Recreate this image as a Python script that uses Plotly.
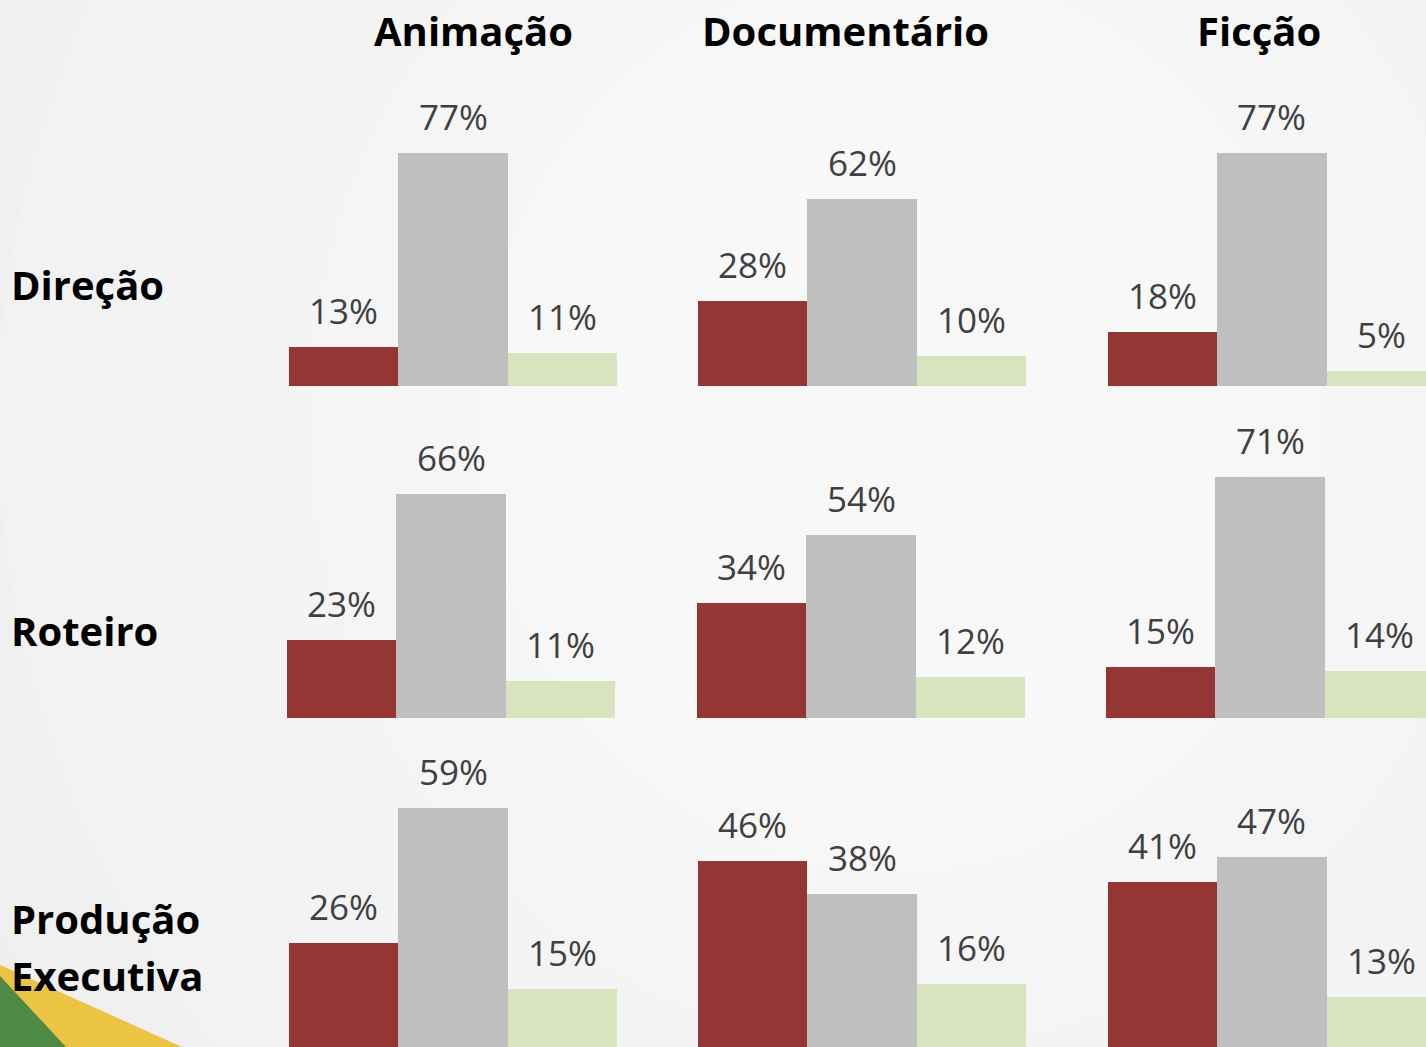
import plotly.graph_objects as go

# ----------------------------- DONNÉES ----------------------------- #
generos = ["Animação", "Documentário", "Ficção"]
funcoes = ["Direção", "Roteiro", "Produção Executiva"]
series = ["Série 1", "Série 2", "Série 3"]

# valeurs (%) par fonction, puis par genre : [série 1, série 2, série 3]
direcao = [[13, 77, 11], [28, 62, 10], [18, 77, 5]]
roteiro = [[23, 66, 11], [34, 54, 12], [15, 71, 14]]
producao_executiva = [[26, 59, 15], [46, 38, 16], [41, 47, 13]]
valores = [direcao, roteiro, producao_executiva]

cores = ["#943634", "#BFBFBF", "#D7E4BD"]

# ----------------------------- MISE EN PAGE ----------------------------- #
W, H = 1426, 1047
BAR_W = 109.33
# (base en px, px par %), par ligne
lignes = [(386, 3.02), (718, 3.39), (1050, 4.1)]
# bord gauche de la 1re barre, par ligne puis par colonne
gauches = [[289, 698, 1108], [287, 697, 1106], [289, 698, 1108]]
PANEL_H = 300

fig = go.Figure()

# fond : léger dégradé clair (cercles blancs superposés)
cx, cy = 900 / W, 1 - 420 / H
for k in [1.3, 1.15, 1.0, 0.87, 0.75, 0.64, 0.54, 0.45]:
    fig.add_shape(type="circle", xref="paper", yref="paper",
                  x0=cx - 0.55 * k, x1=cx + 0.55 * k,
                  y0=cy - 0.8 * k, y1=cy + 0.8 * k,
                  fillcolor="white", opacity=0.13, line_width=0, layer="below")

# décor coin inférieur gauche (jaune puis vert)
fig.add_shape(type="path", xref="paper", yref="paper",
              path=f"M 0 {1-965/H} L {182/W} 0 L 0 0 Z",
              fillcolor="#EBC443", line_width=0, layer="below")
fig.add_shape(type="path", xref="paper", yref="paper",
              path=f"M 0 {1-976/H} L {66/W} 0 L 0 0 Z",
              fillcolor="#4E8A46", line_width=0, layer="below")

annotations = []
n = 0
for r, (base, esc) in enumerate(lignes):
    bas_px = min(base, H)
    haut_px = bas_px - PANEL_H
    y_dom = [1 - bas_px / H, 1 - haut_px / H]
    y_rng = [(base - bas_px) / esc, (base - haut_px) / esc]
    for c in range(3):
        n += 1
        suf = "" if n == 1 else str(n)
        g = gauches[r][c]
        d = g + 3 * BAR_W
        x_rng_max = 2.5
        if d > W:
            x_rng_max = 2.5 - (d - W) / BAR_W
            d = W
        fig.add_trace(go.Bar(
            x=series,
            y=valores[r][c],
            marker=dict(color=cores, line_width=0),
            width=1,
            xaxis="x" + suf,
            yaxis="y" + suf,
            showlegend=False,
            hovertemplate="%{y}%<extra></extra>",
        ))
        fig.layout["xaxis" + suf] = dict(
            domain=[g / W, d / W], range=[-0.5, x_rng_max], type="category",
            visible=False, anchor="y" + suf, fixedrange=True)
        fig.layout["yaxis" + suf] = dict(
            domain=y_dom, range=y_rng, visible=False,
            anchor="x" + suf, fixedrange=True)
        for i, v in enumerate(valores[r][c]):
            annotations.append(dict(
                x=series[i], y=v, xref="x" + suf, yref="y" + suf,
                text=f"{v}%", showarrow=False, yanchor="bottom", yshift=11,
                font=dict(family="Open Sans", size=35, color="#404040")))

# titres des colonnes
for txt, px in zip(generos, [473, 846, 1259]):
    annotations.append(dict(
        x=px / W, y=1 - 30 / H, xref="paper", yref="paper", text=f"<b>{txt}</b>",
        showarrow=False, xanchor="center", yanchor="middle",
        font=dict(family="Open Sans", size=40, color="black")))

# titres des lignes (une annotation par ligne de texte)
for txt, py in zip(funcoes, [284, 630, 918]):
    mots = [txt] if txt != "Produção Executiva" else txt.split(" ")
    for j, mot in enumerate(mots):
        annotations.append(dict(
            x=9 / W, y=1 - (py + 57 * j) / H, xref="paper", yref="paper",
            text=f"<b>{mot}</b>", showarrow=False,
            xanchor="left", yanchor="middle", align="left",
            font=dict(family="Open Sans", size=40, color="black")))

fig.update_layout(
    width=W, height=H,
    margin=dict(l=0, r=0, t=0, b=0),
    paper_bgcolor="#eeeeee",
    plot_bgcolor="rgba(0,0,0,0)",
    bargap=0,
    annotations=annotations,
)

fig.write_html("out.html", config={"displayModeBar": False},
               post_script="document.body.style.margin='0';")
